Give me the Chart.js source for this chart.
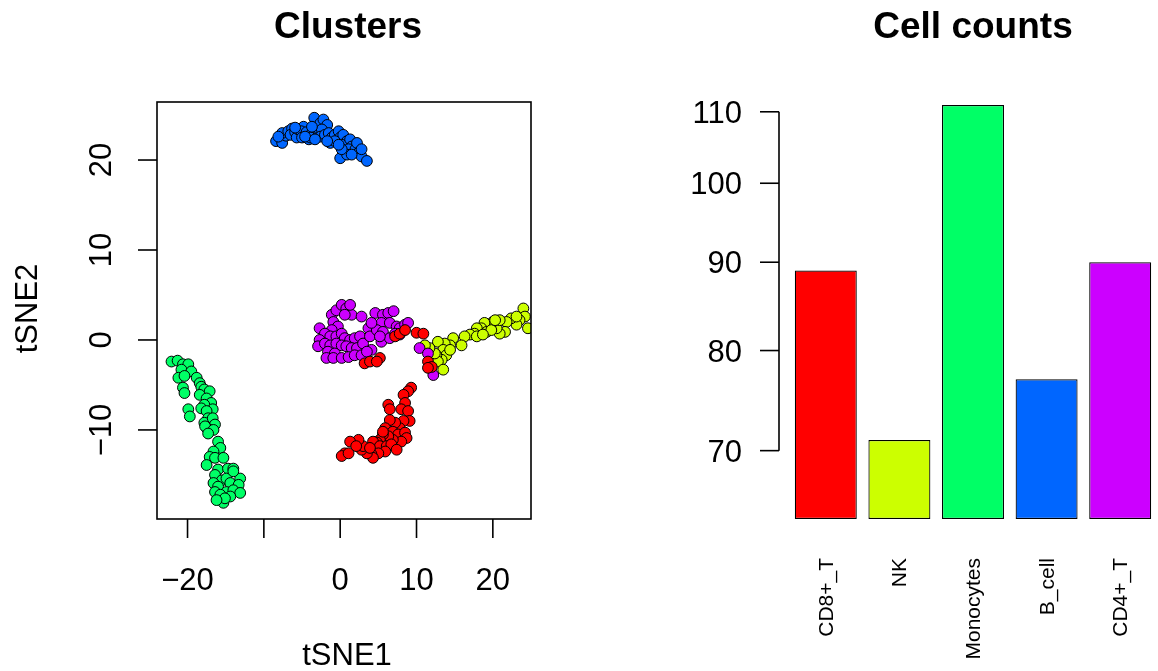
<!DOCTYPE html>
<html>
<head>
<meta charset="utf-8">
<title>Clusters / Cell counts</title>
<script src="https://cdn.jsdelivr.net/npm/chart.js@4.4.1/dist/chart.umd.min.js"></script>
<style>
  html, body { margin: 0; padding: 0; background: #fff; overflow: hidden; }
  #wrap { position: relative; width: 1158px; height: 671px; }
  canvas { position: absolute; top: 0; }
  #tsneChart { left: 0; }
  #countChart { left: 579px; }
</style>
</head>
<body>
<div id="wrap">
  <canvas id="tsneChart" width="579" height="671"></canvas>
  <canvas id="countChart" width="579" height="671"></canvas>
</div>
<script>
const FONT = '"Liberation Sans", Arial, Helvetica, sans-serif';

// cell types, counts and colours (R rainbow(5))
const cellTypes = ["CD8+_T", "NK", "Monocytes", "B_cell", "CD4+_T"];
const cellCounts = [89, 71, 111, 77, 90];
const cellColors = ["#FF0000", "#CCFF00", "#00FF66", "#0066FF", "#CC00FF"];

// axis ticks
const scatterXTicks = [-20, -10, 0, 10, 20];
const scatterXLabels = ["\u221220", "", "0", "10", "20"];
const scatterYTicks = [-10, 0, 10, 20];
const scatterYLabels = ["\u221210", "0", "10", "20"];
const countTicks = [70, 80, 90, 100, 110];

// tSNE coordinates, [tSNE1, tSNE2]
const cd8Points = [
  [3.2, -2.6], [3.9, -2.4], [5.2, -2.0], [4.8, -2.4], [7.2, 0.4], [7.8, 0.7],
  [8.5, 1.1], [10.0, 0.8], [10.9, 0.7], [11.5, -2.4], [12.0, -3.0], [11.5, -3.1],
  [9.3, -5.3], [8.9, -5.7], [8.3, -6.1], [8.5, -7.0], [8.0, -7.7], [8.9, -7.9],
  [9.1, -9.0], [8.3, -9.0], [7.8, -9.8], [7.2, -9.2], [6.5, -8.9], [6.3, -7.2],
  [6.5, -7.7], [5.9, -9.8], [6.9, -10.2], [7.6, -10.5], [8.5, -10.3], [8.7, -10.9],
  [8.0, -11.3], [6.9, -11.1], [6.3, -10.7], [5.6, -10.5], [5.2, -11.1], [4.8, -11.4],
  [4.3, -11.3], [5.2, -11.8], [6.1, -11.8], [6.7, -11.6], [7.4, -12.2], [5.9, -12.4],
  [5.0, -12.6], [4.1, -12.7], [4.3, -13.1], [3.5, -12.6], [2.8, -12.2], [3.0, -11.8],
  [2.4, -11.1], [1.3, -11.3], [2.1, -11.8], [0.6, -12.6], [0.2, -12.9], [1.1, -12.6],
  [3.9, -12.0], [5.6, -10.2]
];
const nkPoints = [
  [24.0, 3.5], [24.2, 2.6], [24.6, 1.3], [23.5, 2.2], [23.1, 1.7], [22.4, 2.4],
  [21.8, 2.0], [21.6, 0.9], [20.9, 0.7], [20.5, 1.3], [20.0, 2.0], [19.6, 1.7],
  [18.9, 1.9], [18.5, 1.3], [17.9, 1.3], [17.6, 0.7], [17.0, 0.6], [16.3, 0.4],
  [15.9, -0.6], [14.8, 0.2], [14.4, -0.6], [13.7, -0.4], [12.8, -0.2], [13.5, -1.1],
  [13.9, -1.7], [13.3, -2.2], [12.6, -1.7], [12.8, -2.4], [13.5, -3.3], [12.4, -1.5],
  [11.7, -0.9], [11.1, -0.6], [14.4, -1.1], [19.2, 0.9], [19.8, 1.1], [20.9, 2.2],
  [20.3, 2.2], [17.9, 0.4], [18.7, 0.6], [23.1, 2.6]
];
const monoPoints = [
  [-22.1, -2.4], [-21.3, -2.3], [-20.6, -2.7], [-19.9, -2.7], [-20.8, -3.3], [-19.5, -3.5],
  [-21.2, -4.2], [-20.4, -4.0], [-18.8, -4.2], [-20.6, -5.3], [-20.4, -5.9], [-18.4, -4.8],
  [-18.2, -5.2], [-17.8, -5.5], [-17.1, -5.7], [-18.4, -6.1], [-17.5, -6.5], [-16.9, -7.0],
  [-17.8, -7.2], [-16.7, -7.7], [-18.2, -7.6], [-17.5, -7.9], [-17.3, -8.7], [-17.8, -9.2],
  [-16.7, -8.7], [-16.4, -9.4], [-17.5, -9.8], [-19.9, -7.7], [-19.7, -8.5], [-17.1, -10.0],
  [-17.7, -9.6], [-16.6, -10.0], [-17.3, -10.4], [-16.0, -11.3], [-15.7, -12.0], [-16.6, -12.4],
  [-17.1, -13.0], [-16.4, -13.1], [-15.3, -13.1], [-17.5, -13.9], [-16.0, -14.4], [-14.7, -14.3],
  [-14.0, -14.3], [-16.4, -15.0], [-15.5, -15.6], [-16.6, -15.9], [-14.9, -15.4], [-14.4, -15.9],
  [-13.1, -15.4], [-13.3, -16.1], [-16.0, -16.3], [-14.9, -16.9], [-16.4, -16.9], [-15.7, -17.2],
  [-14.0, -16.7], [-13.1, -17.0], [-14.4, -17.4], [-15.3, -18.1], [-15.1, -17.6], [-16.2, -17.8],
  [-14.0, -14.6]
];
const bcellPoints = [
  [-8.4, 22.1], [-7.7, 22.4], [-7.6, 21.9], [-7.1, 22.7], [-7.6, 23.0], [-6.8, 23.2],
  [-6.3, 23.5], [-6.5, 22.8], [-5.9, 23.1], [-5.7, 22.5], [-5.5, 23.4], [-4.8, 23.7],
  [-5.1, 23.2], [-5.0, 22.5], [-4.4, 23.1], [-4.1, 22.3], [-3.7, 23.0], [-3.9, 22.5],
  [-3.3, 23.6], [-3.1, 24.3], [-3.4, 24.7], [-2.6, 24.1], [-2.2, 24.5], [-1.7, 23.9],
  [-2.4, 23.4], [-2.6, 22.6], [-2.0, 22.8], [-1.5, 23.0], [-1.1, 22.5], [-0.7, 22.8],
  [-0.2, 23.2], [0.0, 22.5], [0.4, 22.8], [0.9, 22.1], [0.7, 21.5], [0.2, 21.7],
  [1.3, 22.3], [1.5, 21.5], [1.1, 21.2], [2.0, 21.2], [2.2, 21.9], [2.4, 20.8],
  [2.8, 20.4], [3.5, 19.9], [0.0, 20.2], [0.9, 20.6], [1.5, 20.6], [-4.6, 22.6],
  [-1.3, 21.9], [-3.3, 22.3], [-0.7, 22.1], [-1.7, 22.1], [-5.9, 23.6], [-3.7, 23.7],
  [0.2, 21.2], [2.8, 21.2], [-8.1, 22.6], [-0.2, 21.7]
];
const cd4Points = [
  [-1.1, 2.8], [-0.5, 3.3], [0.2, 3.9], [0.8, 3.5], [1.5, 2.8], [0.6, 2.8],
  [1.3, 3.9], [2.8, 2.6], [-0.9, 2.0], [-0.3, 1.5], [-1.1, 1.1], [-2.7, 1.3],
  [-2.0, 0.7], [-1.3, 0.4], [-0.5, 0.4], [0.2, 0.7], [0.6, 0.2], [1.3, 0.0],
  [1.9, 0.2], [2.6, 0.4], [-2.7, 0.0], [-2.9, -0.7], [-2.0, -0.4], [-1.3, -0.6],
  [-0.5, -0.4], [0.2, -0.6], [0.8, -0.7], [1.5, -0.9], [2.2, -0.9], [3.0, -0.4],
  [-1.6, -1.3], [-0.7, -1.5], [-1.8, -2.0], [-0.9, -2.0], [0.2, -2.0], [1.1, -1.9],
  [1.9, -1.7], [2.8, -1.7], [4.1, -1.1], [3.5, -1.3], [3.7, 1.3], [4.6, 3.0],
  [5.6, 2.8], [6.3, 3.0], [7.0, 3.2], [5.4, 1.9], [6.5, 1.9], [3.9, 0.4],
  [4.8, 1.1], [5.6, 0.9], [7.4, 1.5], [7.8, 1.3], [8.5, 1.7], [8.9, 1.9],
  [5.4, -0.2], [6.5, 0.2], [7.2, 0.7], [7.8, 0.6], [4.1, 1.9], [5.2, 0.4],
  [10.4, -0.9], [11.5, -1.5], [12.2, -3.9]
];

// dataset 0 is drawn last (on top)
const clusterOrder = [
  { label: "CD8+_T", points: cd8Points, color: cellColors[0] },
  { label: "CD4+_T", points: cd4Points, color: cellColors[4] },
  { label: "NK", points: nkPoints, color: cellColors[1] },
  { label: "Monocytes", points: monoPoints, color: cellColors[2] },
  { label: "B_cell", points: bcellPoints, color: cellColors[3] },
];

const clusterSets = clusterOrder.map((c) => ({
  label: c.label,
  data: c.points.map(([x, y]) => ({ x, y })),
  backgroundColor: c.color,
  borderColor: "#000000",
  borderWidth: 1,
  pointRadius: 5.4,
}));

const drawLine = (ctx, x1, y1, x2, y2) => {
  ctx.beginPath();
  ctx.moveTo(x1, y1);
  ctx.lineTo(x2, y2);
  ctx.stroke();
};

// rotated text, reading bottom to top; (x, y) is the baseline anchor
const drawVertText = (ctx, text, x, y, align) => {
  ctx.save();
  ctx.translate(x, y);
  ctx.rotate(-Math.PI / 2);
  ctx.textAlign = align;
  ctx.textBaseline = "alphabetic";
  ctx.fillText(text, 0, 0);
  ctx.restore();
};

// R style box + axes for the tSNE panel
const scatterAxes = {
  id: "scatterAxes",
  afterDraw(chart) {
    const { ctx, chartArea: a, scales } = chart;
    ctx.save();
    ctx.strokeStyle = "#000";
    ctx.fillStyle = "#000";
    ctx.lineWidth = 1.6;
    ctx.strokeRect(a.left, a.top, a.right - a.left, a.bottom - a.top);

    ctx.font = `31px ${FONT}`;
    ctx.textAlign = "center";
    ctx.textBaseline = "alphabetic";
    scatterXTicks.forEach((v, i) => {
      const x = scales.x.getPixelForValue(v);
      drawLine(ctx, x, a.bottom, x, a.bottom + 19);
      ctx.fillText(scatterXLabels[i], x, a.bottom + 71);
    });
    scatterYTicks.forEach((v, i) => {
      const y = scales.y.getPixelForValue(v);
      drawLine(ctx, a.left, y, a.left - 19, y);
      drawVertText(ctx, scatterYLabels[i], a.left - 46, y, "center");
    });

    ctx.textAlign = "center";
    ctx.fillText("tSNE1", (a.left + a.right) / 2 + 3, 665);
    drawVertText(ctx, "tSNE2", 37, (a.top + a.bottom) / 2 - 2, "center");

    ctx.font = `bold 37px ${FONT}`;
    ctx.textAlign = "center";
    ctx.fillText("Clusters", (a.left + a.right) / 2 + 4, 38);
    ctx.restore();
  },
};

// R style axes for the bar panel
const countAxes = {
  id: "countAxes",
  afterDraw(chart) {
    const { ctx, chartArea: a, scales } = chart;
    const axisX = a.left - 10;
    ctx.save();
    ctx.strokeStyle = "#000";
    ctx.fillStyle = "#000";
    ctx.lineWidth = 1.6;
    const yTop = scales.y.getPixelForValue(countTicks[countTicks.length - 1]);
    const yBot = scales.y.getPixelForValue(countTicks[0]);
    drawLine(ctx, axisX, yTop, axisX, yBot);

    ctx.font = `31px ${FONT}`;
    ctx.textAlign = "right";
    ctx.textBaseline = "alphabetic";
    countTicks.forEach((v) => {
      const y = scales.y.getPixelForValue(v);
      drawLine(ctx, axisX, y, axisX - 19, y);
      ctx.fillText(String(v), axisX - 37, y + 11);
    });

    ctx.font = `21px ${FONT}`;
    cellTypes.forEach((name, i) => {
      const x = scales.x.getPixelForValue(i);
      drawVertText(ctx, name, x + 7, a.bottom + 39, "right");
    });

    ctx.font = `bold 37px ${FONT}`;
    ctx.textAlign = "center";
    ctx.fillText("Cell counts", 394, 38);
    ctx.restore();
  },
};

new Chart(document.getElementById("tsneChart"), {
  type: "scatter",
  data: { datasets: clusterSets },
  options: {
    responsive: false,
    animation: false,
    layout: { padding: { left: 157, top: 102, right: 48, bottom: 152 } },
    scales: {
      x: { type: "linear", min: -24.0, max: 25.0, display: false },
      y: { type: "linear", min: -19.9, max: 26.45, display: false },
    },
    plugins: { legend: { display: false }, tooltip: { enabled: false } },
  },
  plugins: [scatterAxes],
});

new Chart(document.getElementById("countChart"), {
  type: "bar",
  data: {
    labels: cellTypes,
    datasets: [
      {
        data: cellCounts,
        backgroundColor: cellColors,
        borderColor: "#000000",
        borderWidth: 1.2,
        borderSkipped: false,
        categoryPercentage: 0.842,
        barPercentage: 1.0,
      },
    ],
  },
  options: {
    responsive: false,
    animation: false,
    layout: { padding: { left: 210, top: 105, right: 1, bottom: 152 } },
    scales: {
      x: { type: "category", offset: true, display: false },
      y: { type: "logarithmic", min: 63.9, max: 111, display: false },
    },
    plugins: { legend: { display: false }, tooltip: { enabled: false } },
  },
  plugins: [countAxes],
});
</script>
</body>
</html>
